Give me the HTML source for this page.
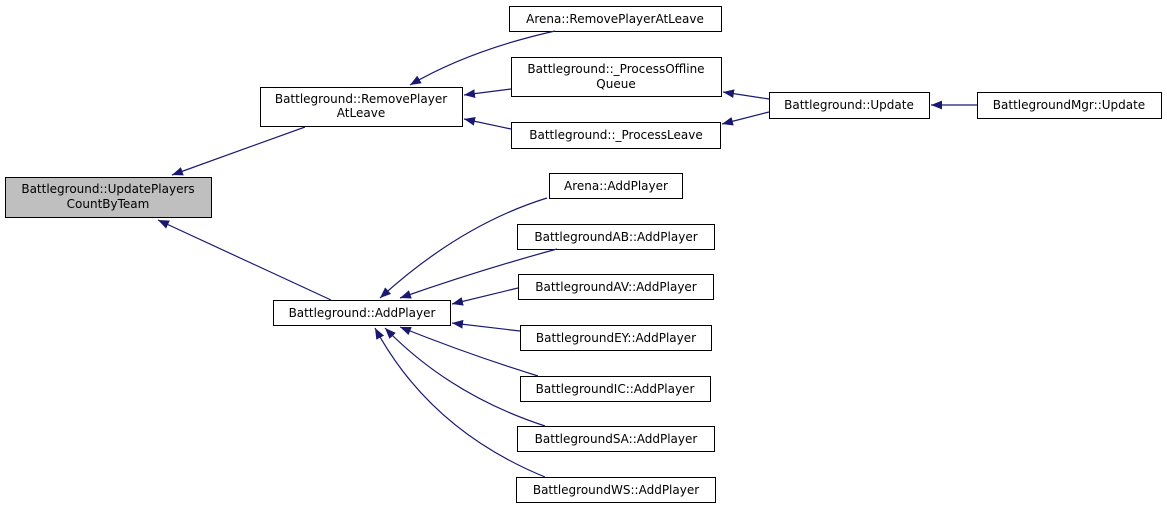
<!DOCTYPE html>
<html><head><style>
body{margin:0;background:#fff;}
svg text{font-family:"DejaVu Sans",sans-serif;font-size:12px;fill:#000;}
</style></head><body>
<svg width="1167" height="509" xmlns="http://www.w3.org/2000/svg">
<defs><marker id="a" viewBox="0 0 10 10" refX="10" refY="5" markerWidth="11" markerHeight="11" orient="auto" markerUnits="userSpaceOnUse"><path d="M0,1 L10,5 L0,9 z" fill="#191970"/></marker></defs>
<g fill="#fff" stroke="#000" stroke-width="1">
<rect x="5.5" y="177.5" width="206" height="40" fill="#bfbfbf"/>
<rect x="260.5" y="87.5" width="202" height="39"/>
<rect x="273.5" y="300.5" width="177" height="25"/>
<rect x="509.5" y="6.5" width="212" height="25"/>
<rect x="511.5" y="57.5" width="210" height="39"/>
<rect x="511.5" y="122.5" width="209" height="26"/>
<rect x="769.5" y="92.5" width="160" height="26"/>
<rect x="977.5" y="92.5" width="184" height="26"/>
<rect x="549.5" y="173.5" width="133" height="25"/>
<rect x="517.5" y="224.5" width="197" height="25"/>
<rect x="518.5" y="274.5" width="195" height="25"/>
<rect x="520.5" y="325.5" width="191" height="25"/>
<rect x="520.5" y="376.5" width="190" height="25"/>
<rect x="517.5" y="426.5" width="197" height="25"/>
<rect x="516.5" y="477.5" width="199" height="25"/>
</g>
<g stroke="#191970" stroke-width="1.2" fill="none" marker-end="url(#a)">
<path d="M305,127 L172,175"/>
<path d="M331,300 L158,220"/>
<path d="M555,31 Q470,50 410,85"/>
<path d="M511,89 L464,95"/>
<path d="M511,129 L464,119"/>
<path d="M769,99 L723,92"/>
<path d="M769,112 L722,124"/>
<path d="M977,105 L931,105"/>
<path d="M547,198 Q460,225 380,298"/>
<path d="M557,249 Q480,270 400,298"/>
<path d="M518,288 L452,304"/>
<path d="M520,331 L452,323"/>
<path d="M538,376 Q470,355 400,327"/>
<path d="M545,426 Q450,395 385,328"/>
<path d="M545,477 Q430,430 375,328"/>
</g>
<g text-anchor="middle">
<text x="108" y="193">Battleground::UpdatePlayers</text>
<text x="108" y="208">CountByTeam</text>
<text x="361" y="103">Battleground::RemovePlayer</text>
<text x="361" y="117">AtLeave</text>
<text x="362" y="317">Battleground::AddPlayer</text>
<text x="615" y="23">Arena::RemovePlayerAtLeave</text>
<text x="616" y="73">Battleground::_ProcessOffline</text>
<text x="616" y="88">Queue</text>
<text x="616" y="139">Battleground::_ProcessLeave</text>
<text x="849" y="109">Battleground::Update</text>
<text x="1069" y="109">BattlegroundMgr::Update</text>
<text x="616" y="190">Arena::AddPlayer</text>
<text x="616" y="241">BattlegroundAB::AddPlayer</text>
<text x="616" y="291">BattlegroundAV::AddPlayer</text>
<text x="616" y="342">BattlegroundEY::AddPlayer</text>
<text x="615" y="393">BattlegroundIC::AddPlayer</text>
<text x="616" y="443">BattlegroundSA::AddPlayer</text>
<text x="616" y="494">BattlegroundWS::AddPlayer</text>
</g>
</svg>
</body></html>
